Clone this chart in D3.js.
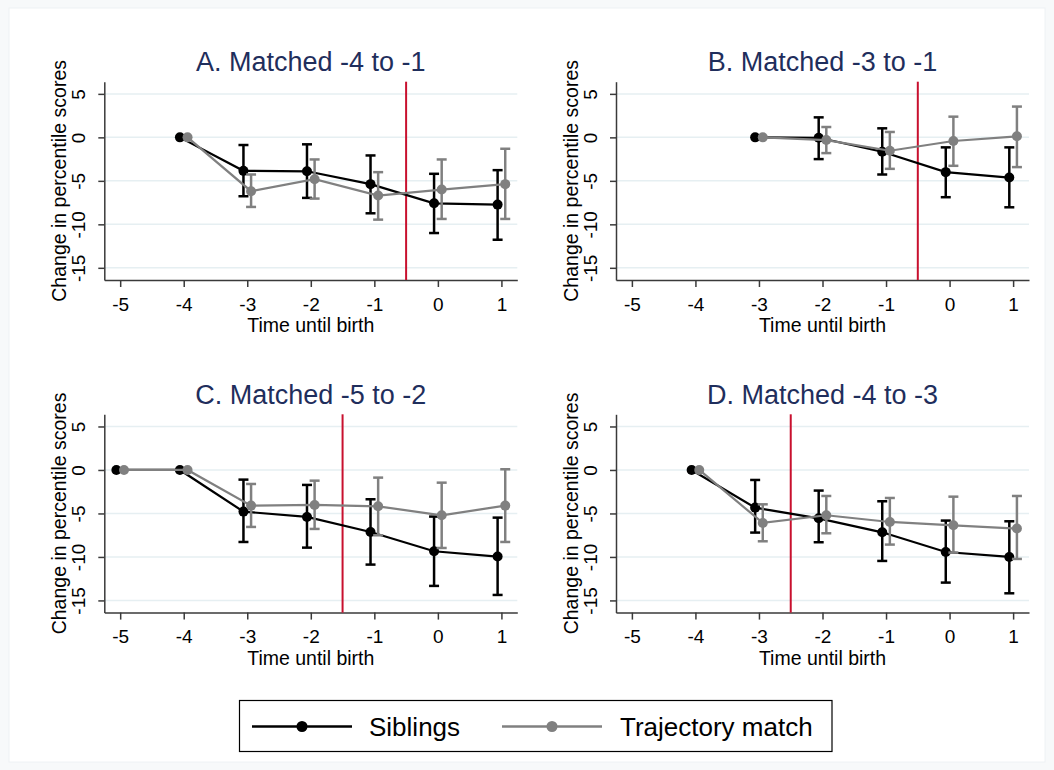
<!DOCTYPE html>
<html>
<head>
<meta charset="utf-8">
<script src="https://cdn.jsdelivr.net/npm/d3@7"></script>
<style>
  body { margin: 0; background: #fff; }
  svg { display: block; font-family: "Liberation Sans", Arial, sans-serif; }
</style>
</head>
<body>
<svg id="chart" width="1054" height="770"></svg>
<script>
// ticks
const xTicks = [-5, -4, -3, -2, -1, 0, 1];
const yTicks = [5, 0, -5, -10, -15];

// A. Matched -4 to -1
const timeA   = [-4, -3, -2, -1, 0, 1];
const sibA    = [0, -3.85, -3.9, -5.38, -7.58, -7.73];
const sibLoA  = [null, -6.77, -6.96, -8.73, -11.0, -11.77];
const sibHiA  = [null, -0.88, -0.8, -2.08, -4.19, -3.77];
const trajA   = [0, -6.19, -4.81, -6.69, -6.0, -5.38];
const trajLoA = [null, -8.0, -7.04, -9.46, -9.38, -9.38];
const trajHiA = [null, -4.27, -2.54, -4.0, -2.54, -1.31];

// B. Matched -3 to -1
const timeB   = [-3, -2, -1, 0, 1];
const sibB    = [0, -0.05, -1.65, -4.0, -4.62];
const sibLoB  = [null, -2.5, -4.27, -6.88, -8.04];
const sibHiB  = [null, 2.3, 1.04, -1.15, -1.15];
const trajB   = [0, -0.31, -1.54, -0.42, 0.12];
const trajLoB = [null, -1.81, -3.62, -3.27, -3.42];
const trajHiB = [null, 1.19, 0.62, 2.38, 3.54];

// C. Matched -5 to -2
const timeC   = [-5, -4, -3, -2, -1, 0, 1];
const sibC    = [0, 0, -4.79, -5.4, -7.13, -9.35, -9.96];
const sibLoC  = [null, null, -8.28, -8.93, -10.88, -13.33, -14.37];
const sibHiC  = [null, null, -1.11, -1.72, -3.37, -5.36, -5.48];
const trajC   = [0, 0, -4.1, -4.02, -4.18, -5.21, -4.1];
const trajLoC = [null, null, -6.55, -6.78, -7.51, -8.97, -8.28];
const trajHiC = [null, null, -1.61, -1.23, -0.88, -1.46, 0.08];

// D. Matched -4 to -3
const timeD   = [-4, -3, -2, -1, 0, 1];
const sibD    = [0, -4.33, -5.56, -7.17, -9.43, -10.0];
const sibLoD  = [null, -7.2, -8.31, -10.46, -12.95, -14.18];
const sibHiD  = [null, -1.15, -2.37, -3.6, -5.82, -5.9];
const trajD   = [0, -6.09, -5.21, -5.98, -6.36, -6.74];
const trajLoD = [null, -8.2, -7.28, -8.58, -9.5, -10.23];
const trajHiD = [null, -3.95, -2.99, -3.22, -3.07, -2.99];

const titles  = ['A. Matched -4 to -1', 'B. Matched -3 to -1', 'C. Matched -5 to -2', 'D. Matched -4 to -3'];
const cutoffs = [-0.5, -0.5, -1.5, -2.5];
const seriesNames = ['Siblings', 'Trajectory match'];

const colors = { sib: '#000000', traj: '#808080', cut: '#c8102e', grid: '#e6eff2', title: '#1f2e5c', axis: '#3a3a3a' };
const FONT = '"Liberation Sans", Arial, sans-serif';

// panel table built from the arrays above
const panels = [
  { time: timeA, s: [sibA, sibLoA, sibHiA], t: [trajA, trajLoA, trajHiA] },
  { time: timeB, s: [sibB, sibLoB, sibHiB], t: [trajB, trajLoB, trajHiB] },
  { time: timeC, s: [sibC, sibLoC, sibHiC], t: [trajC, trajLoC, trajHiC] },
  { time: timeD, s: [sibD, sibLoD, sibHiD], t: [trajD, trajLoD, trajHiD] }
].map((p, i) => ({ ...p, title: titles[i], cut: cutoffs[i] }));

const svg = d3.select('#chart');

// faint outer frame
svg.append('rect').attr('width', 1054).attr('height', 770).attr('fill', '#f7f9fa');
svg.append('rect').attr('x', 9).attr('y', 8).attr('width', 1036).attr('height', 754)
  .attr('fill', '#fff').attr('stroke', '#eef2f4');

// plot areas (left, top) of each panel
const pw = 413, ph = 198.3;
const origins = [[104.3, 81.7], [616, 81.7], [104.3, 414.3], [616, 414.3]];
const offset = 0.06;
const fmt = d => String(d);   // plain hyphen minus, like the original

panels.forEach((p, i) => {
  const [ox, oy] = origins[i];
  const g = svg.append('g').attr('transform', `translate(${ox},${oy})`);

  const x = d3.scaleLinear().domain([-5.25, 1.25]).range([0, pw]);
  const y = d3.scaleLinear().domain([-16.4, 6.4]).range([ph, 0]);

  // grid
  g.selectAll('.grid')
    .data(yTicks)
    .join('line')
      .attr('x1', 0).attr('x2', pw)
      .attr('y1', d => y(d)).attr('y2', d => y(d))
      .attr('stroke', colors.grid).attr('stroke-width', 1.5);

  // axes
  const xAxis = g.append('g')
    .attr('transform', `translate(0,${ph})`)
    .call(d3.axisBottom(x).tickValues(xTicks).tickFormat(fmt).tickSize(7).tickSizeOuter(0));
  xAxis.select('.domain').attr('stroke', colors.axis).attr('stroke-width', 1.5);
  xAxis.selectAll('.tick line').attr('stroke', colors.axis).attr('stroke-width', 1.5);
  xAxis.selectAll('.tick text')
    .attr('font-size', 19).attr('fill', '#000').attr('font-family', FONT)
    .attr('dy', null).attr('y', 30.5);

  const yAxis = g.append('g')
    .call(d3.axisLeft(y).tickValues(yTicks).tickFormat(fmt).tickSize(6).tickSizeOuter(0));
  yAxis.select('.domain').attr('stroke', colors.axis).attr('stroke-width', 1.5);
  yAxis.selectAll('.tick line').attr('stroke', colors.axis).attr('stroke-width', 1.5);
  yAxis.selectAll('.tick text')
    .attr('font-size', 19).attr('fill', '#000').attr('font-family', FONT)
    .attr('x', null).attr('dy', null)
    .attr('text-anchor', 'middle')
    .attr('transform', 'translate(-19,0) rotate(-90)');

  // cutoff line
  g.append('line')
    .attr('x1', x(p.cut)).attr('x2', x(p.cut))
    .attr('y1', 0).attr('y2', ph)
    .attr('stroke', colors.cut).attr('stroke-width', 2);

  // series: siblings first, trajectory on top
  [[p.s, -offset, colors.sib], [p.t, offset, colors.traj]].forEach(([vals, dx, col]) => {
    const pts = p.time.map((t, k) => ({ t: t + dx, v: vals[0][k], lo: vals[1][k], hi: vals[2][k] }));
    const ci = pts.filter(d => d.lo !== null);

    g.selectAll(null).data(ci).join('line')
      .attr('x1', d => x(d.t)).attr('x2', d => x(d.t))
      .attr('y1', d => y(d.lo)).attr('y2', d => y(d.hi))
      .attr('stroke', col).attr('stroke-width', 2.5);
    ['lo', 'hi'].forEach(k => {
      g.selectAll(null).data(ci).join('line')
        .attr('x1', d => x(d.t) - 5).attr('x2', d => x(d.t) + 5)
        .attr('y1', d => y(d[k])).attr('y2', d => y(d[k]))
        .attr('stroke', col).attr('stroke-width', 2.5);
    });

    g.append('path')
      .datum(pts)
      .attr('fill', 'none').attr('stroke', col).attr('stroke-width', 2.2)
      .attr('d', d3.line().x(d => x(d.t)).y(d => y(d.v)));

    g.selectAll(null).data(pts).join('circle')
      .attr('cx', d => x(d.t)).attr('cy', d => y(d.v))
      .attr('r', 5).attr('fill', col);
  });

  // titles
  g.append('text')
    .attr('x', pw / 2).attr('y', -10.5)
    .attr('text-anchor', 'middle')
    .attr('font-size', 27).attr('fill', colors.title)
    .text(p.title);
  g.append('text')
    .attr('x', pw / 2).attr('y', ph + 52)
    .attr('text-anchor', 'middle')
    .attr('font-size', 19.5).attr('fill', '#000')
    .text('Time until birth');
  g.append('text')
    .attr('transform', `translate(${-38},${ph / 2}) rotate(-90)`)
    .attr('text-anchor', 'middle')
    .attr('font-size', 19.5).attr('fill', '#000')
    .text('Change in percentile scores');
});

// legend
const leg = svg.append('g');
leg.append('rect')
  .attr('x', 239.5).attr('y', 700.5).attr('width', 592.5).attr('height', 51)
  .attr('fill', '#fff').attr('stroke', '#000').attr('stroke-width', 1.2);
const legItems = [
  { name: seriesNames[0], col: colors.sib, x0: 252, tx: 369 },
  { name: seriesNames[1], col: colors.traj, x0: 502, tx: 620 }
];
legItems.forEach(d => {
  leg.append('line')
    .attr('x1', d.x0).attr('x2', d.x0 + 100)
    .attr('y1', 726.5).attr('y2', 726.5)
    .attr('stroke', d.col).attr('stroke-width', 2.5);
  leg.append('circle')
    .attr('cx', d.x0 + 50).attr('cy', 726.5).attr('r', 5.5).attr('fill', d.col);
  leg.append('text')
    .attr('x', d.tx).attr('y', 735.5)
    .attr('font-size', 26).attr('fill', '#000')
    .text(d.name);
});
</script>
</body>
</html>
